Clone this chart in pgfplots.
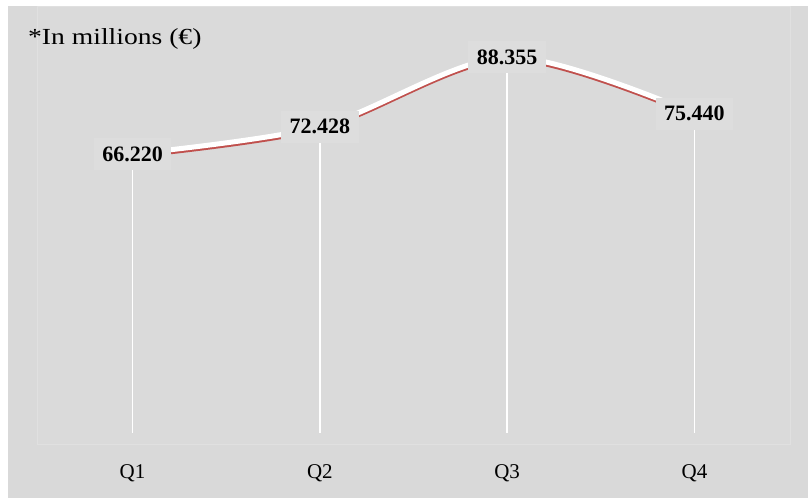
\documentclass[border=0pt]{standalone}
\usepackage{pgfplots}
\pgfplotsset{compat=1.18}
\usepackage{fontspec}
\setmainfont{Liberation Serif}
\newfontfamily\titlefont[FakeStretch=1.2]{Liberation Serif}
\definecolor{bg}{RGB}{217,217,217}
\definecolor{innerbg}{RGB}{218,218,218}
\definecolor{innerline}{RGB}{224,224,224}
\definecolor{lblfill}{RGB}{221,221,221}
\definecolor{shadowred}{RGB}{192,80,77}
\begin{document}
\begin{tikzpicture}[x=1bp,y=1bp]
\fill[white] (0,0) rectangle (809,498);
\fill[bg] (8,0) rectangle (808,492);
\begin{axis}[
  at={(37bp,54bp)}, anchor=south west,
  scale only axis, width=753bp, height=438bp,
  xmin=-0.51, xmax=3.51, ymin=0, ymax=100,
  axis background/.style={fill=innerbg},
  axis line style={draw=innerline, line width=0.8bp},
  xtick={0,1,2,3}, xticklabels={Q1,Q2,Q3,Q4},
  ytick=\empty,
  major tick length=0pt,
  xticklabel style={font=\fontsize{21bp}{24bp}\selectfont, yshift=-17bp},
  clip=false,
]
\addplot[white, line width=1.5bp, forget plot] coordinates {(0,2.5) (0,66.22)};
\addplot[white, line width=1.5bp, forget plot] coordinates {(1,2.5) (1,72.428)};
\addplot[white, line width=1.5bp, forget plot] coordinates {(2,2.5) (2,88.355)};
\addplot[white, line width=1.5bp, forget plot] coordinates {(3,2.5) (3,75.44)};
\addplot[shadowred, line width=4bp, smooth, yshift=-2.5bp] coordinates {(0,66.22) (1,72.428) (2,88.355) (3,75.44)};
\addplot[white, line width=5bp, smooth] coordinates {(0,66.22) (1,72.428) (2,88.355) (3,75.44)};
\addplot[draw=none, mark=none, nodes near coords, point meta=explicit symbolic,
  every node near coord/.style={anchor=center, fill=lblfill, inner sep=8.5bp,
    font=\bfseries\fontsize{22bp}{24bp}\selectfont, text=black}]
  coordinates {(0,66.22) [66.220] (1,72.428) [72.428] (2,88.355) [88.355] (3,75.44) [75.440]};
\end{axis}
\node[anchor=base west, font=\titlefont\fontsize{23bp}{26bp}\selectfont, inner sep=0] at (28,453) {*In millions (€)};
\end{tikzpicture}
\end{document}
